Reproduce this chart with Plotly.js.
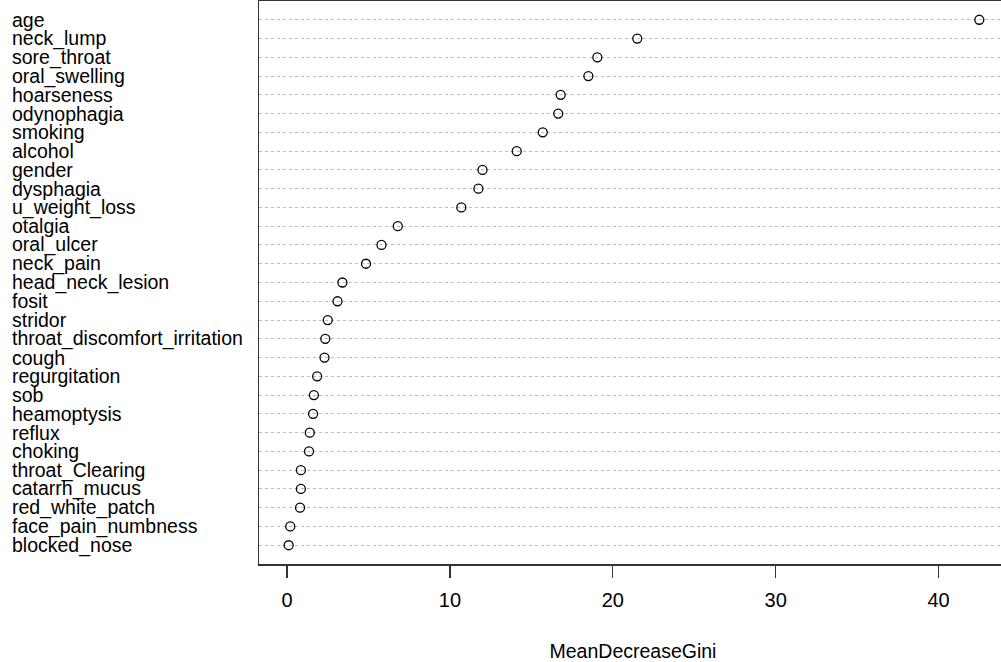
<!DOCTYPE html>
<html>
<head>
<meta charset="utf-8">
<script src="https://cdn.plot.ly/plotly-3.0.1.min.js"></script>
<style>
html,body{margin:0;padding:0;overflow:hidden;background:#fff;width:1001px;height:662px;}
#chart{width:1008px;height:662px;}
</style>
</head>
<body>
<div id="chart"></div>
<script>
var categories = ["age","neck_lump","sore_throat","oral_swelling","hoarseness","odynophagia","smoking","alcohol","gender","dysphagia","u_weight_loss","otalgia","oral_ulcer","neck_pain","head_neck_lesion","fosit","stridor","throat_discomfort_irritation","cough","regurgitation","sob","heamoptysis","reflux","choking","throat_Clearing","catarrh_mucus","red_white_patch","face_pain_numbness","blocked_nose"];
var meanDecreaseGini = [42.5,21.5,19.05,18.5,16.8,16.65,15.7,14.1,12.0,11.75,10.7,6.8,5.8,4.85,3.4,3.1,2.5,2.35,2.3,1.85,1.65,1.6,1.4,1.35,0.85,0.85,0.8,0.2,0.1];
var xTicks = [0,10,20,30,40];
var xTitle = "MeanDecreaseGini";

var FONT = "Liberation Sans, Arial, sans-serif";
var n = categories.length;
var catOrder = categories.slice().reverse();

var trace = {
  type: "scatter",
  mode: "markers",
  x: meanDecreaseGini,
  y: categories,
  marker: {symbol: "circle-open", size: 9, color: "#000", line: {width: 1.3, color: "#000"}},
  hoverinfo: "x+y",
  showlegend: false
};

var annotations = categories.map(function(c){
  return {xref: "paper", yref: "y", x: -0.3335, y: c, text: c, showarrow: false,
          xanchor: "left", yanchor: "middle", font: {family: FONT, size: 19.5, color: "#000"}};
});

var layout = {
  width: 1008, height: 662,
  margin: {l: 259, r: 1, t: 1, b: 98},
  paper_bgcolor: "#fff", plot_bgcolor: "#fff",
  font: {family: FONT, color: "#000"},
  xaxis: {
    range: [-1.72, 44.2],
    tickvals: xTicks, ticktext: xTicks.map(String),
    ticks: "outside", ticklen: 12, tickwidth: 1.3, tickcolor: "#333",
    ticklabelstandoff: 5,
    tickfont: {family: FONT, size: 20, color: "#000"},
    showgrid: false, zeroline: false,
    showline: true, linecolor: "#333", linewidth: 1.5, mirror: true,
    title: {text: xTitle, font: {family: FONT, size: 19.5, color: "#000"}, standoff: 38}
  },
  yaxis: {
    type: "category",
    categoryorder: "array", categoryarray: catOrder,
    range: [-1, n],
    showticklabels: false, ticks: "",
    showgrid: true, gridcolor: "#bdbdbd", gridwidth: 1, griddash: "dot",
    zeroline: false,
    showline: true, linecolor: "#333", linewidth: 1.5, mirror: true
  },
  annotations: annotations
};

Plotly.newPlot("chart", [trace], layout, {displayModeBar: false, staticPlot: true});
</script>
</body>
</html>
